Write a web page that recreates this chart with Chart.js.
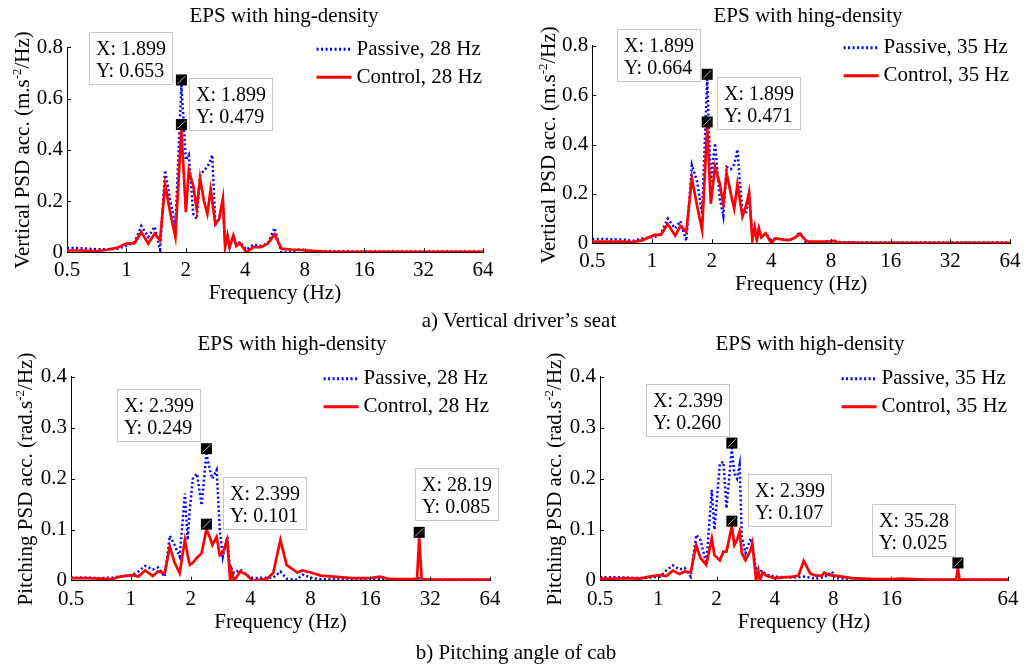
<!DOCTYPE html>
<html>
<head>
<meta charset="utf-8">
<title>PSD EPS</title>
<script src="https://cdn.jsdelivr.net/npm/chart.js@4.4.1/dist/chart.umd.min.js"></script>
<style>
  body { margin: 0; background: #fff; }
  #page { position: relative; width: 1029px; height: 666px; overflow: hidden; background: #fff;
          font-family: "Liberation Serif", serif; color: #000; }
  canvas { position: absolute; left: 0; top: 0; }
  .txt { position: absolute; white-space: nowrap; font-size: 21px; line-height: 1; transform: translate(-50%, -50%); }
  .ylab { transform: translate(-50%, -50%) rotate(-90deg); }
  sup { font-size: 13px; line-height: 0; vertical-align: 8px; }
</style>
</head>
<body>
<div id="page">
  <canvas id="c1" width="1029" height="666"></canvas>
  <canvas id="c2" width="1029" height="666"></canvas>
  <canvas id="c3" width="1029" height="666"></canvas>
  <canvas id="c4" width="1029" height="666"></canvas>

  <div class="txt" style="left:284px;top:15px">EPS with hing-density</div>
  <div class="txt" style="left:808px;top:15px">EPS with hing-density</div>
  <div class="txt" style="left:292px;top:343px">EPS with high-density</div>
  <div class="txt" style="left:810px;top:343px">EPS with high-density</div>

  <div class="txt ylab" style="left:22px;top:150px">Vertical PSD acc. (m.s<sup>-2</sup>/Hz)</div>
  <div class="txt ylab" style="left:548px;top:145px">Vertical PSD acc. (m.s<sup>-2</sup>/Hz)</div>
  <div class="txt ylab" style="left:25px;top:479px">Pitching PSD acc. (rad.s<sup>-2</sup>/Hz)</div>
  <div class="txt ylab" style="left:554px;top:479px">Pitching PSD acc. (rad.s<sup>-2</sup>/Hz)</div>

  <div class="txt" style="left:519px;top:320px">a) Vertical driver’s seat</div>
  <div class="txt" style="left:516px;top:652px">b) Pitching angle of cab</div>
</div>

<script>
// ---- data ----
const xTicks = [0.5, 1, 2, 4, 8, 16, 32, 64];
const xTicksNo32 = [0.5, 1, 2, 4, 8, 16, 64];
const yTicksSeat = [0, 0.2, 0.4, 0.6, 0.8];
const yTicksCab = [0, 0.1, 0.2, 0.3, 0.4];

// a) vertical seat, 28 Hz
const freqSeat28 = [0.5, 0.6, 0.7, 0.8, 0.9, 1.0, 1.1, 1.19, 1.29, 1.39, 1.48, 1.57, 1.67, 1.77, 1.899,
  2.0, 2.07, 2.18, 2.27, 2.36, 2.47, 2.57, 2.67, 2.72, 2.82, 2.95, 3.08, 3.16, 3.25, 3.33,
  3.48, 3.6, 3.76, 4.05, 4.4, 4.8, 5.2, 5.63, 6.1, 7.0, 7.5, 8.0, 8.5, 10, 12, 16, 24, 32, 48, 64];
const passiveSeat28 = [0.017, 0.016, 0.012, 0.012, 0.014, 0.025, 0.04, 0.103, 0.06, 0.1, 0.01, 0.32, 0.2, 0.1, 0.653,
  0.36, 0.38, 0.15, 0.13, 0.3, 0.32, 0.333, 0.36, 0.38, 0.11, 0.13, 0.2, 0.04, 0.06, 0.02,
  0.06, 0.03, 0.04, 0.01, 0.03, 0.025, 0.035, 0.095, 0.0, 0.002, 0.01, 0.01, 0.004, 0.004, 0.004, 0.003, 0.003, 0.003, 0.003, 0.003];
const controlSeat28 = [0.007, 0.007, 0.004, 0.01, 0.018, 0.034, 0.036, 0.079, 0.034, 0.073, 0.047, 0.265, 0.15, 0.06, 0.479,
  0.157, 0.32, 0.26, 0.17, 0.29, 0.2, 0.15, 0.245, 0.2, 0.11, 0.13, 0.21, 0.02, 0.066, 0.02,
  0.066, 0.025, 0.036, 0.0, 0.02, 0.02, 0.034, 0.07, 0.014, 0.01, 0.01, 0.007, 0.007, 0.003, 0.002, 0.002, 0.002, 0.002, 0.002, 0.002];
const tipsSeat28 = [[1.899, 0.653], [1.899, 0.479]];

// a) vertical seat, 35 Hz
const freqSeat35 = [0.5, 0.6, 0.72, 0.8, 0.9, 1.03, 1.11, 1.2, 1.31, 1.39, 1.49, 1.59, 1.69, 1.79, 1.899,
  1.98, 2.08, 2.2, 2.29, 2.38, 2.5, 2.6, 2.7, 2.86, 2.98, 3.09, 3.21, 3.3, 3.38, 3.46,
  3.56, 3.75, 4.0, 4.2, 4.6, 4.9, 5.2, 5.58, 6.0, 6.2, 7.3, 8.0, 8.3, 8.6, 10, 12, 16, 24, 32, 48, 64];
const passiveSeat35 = [0.018, 0.017, 0.015, 0.01, 0.02, 0.025, 0.04, 0.1, 0.06, 0.09, 0.01, 0.317, 0.25, 0.12, 0.664,
  0.25, 0.405, 0.18, 0.11, 0.31, 0.3, 0.32, 0.38, 0.12, 0.12, 0.2, 0.03, 0.065, 0.013, 0.06,
  0.025, 0.04, 0.01, 0.02, 0.015, 0.013, 0.02, 0.045, 0.0, 0.002, 0.005, 0.01, 0.013, 0.005, 0.004, 0.003, 0.003, 0.003, 0.003, 0.003, 0.003];
const controlSeat35 = [0.007, 0.007, 0.007, 0.005, 0.013, 0.034, 0.034, 0.078, 0.031, 0.07, 0.047, 0.263, 0.15, 0.054, 0.471,
  0.16, 0.31, 0.24, 0.16, 0.283, 0.2, 0.14, 0.24, 0.108, 0.15, 0.205, 0.013, 0.065, 0.013, 0.06,
  0.025, 0.04, 0.0, 0.02, 0.015, 0.013, 0.02, 0.038, 0.01, 0.007, 0.007, 0.008, 0.01, 0.004, 0.003, 0.002, 0.002, 0.002, 0.002, 0.002, 0.002];
const tipsSeat35 = [[1.899, 0.664], [1.899, 0.471]];

// b) cab pitch, 28 Hz
const freqCab28 = [0.5, 0.6, 0.7, 0.8, 0.88, 1.03, 1.09, 1.18, 1.29, 1.37, 1.48, 1.57, 1.66, 1.76, 1.87,
  1.93, 1.98, 2.05, 2.15, 2.27, 2.399, 2.5, 2.57, 2.7, 2.8, 2.9, 3.05, 3.16, 3.2, 3.3,
  3.55, 3.8, 4.1, 4.8, 5.2, 5.65, 6.07, 6.86, 7.3, 8.2, 9, 10.5, 13, 16, 17.9, 20, 26, 27.5, 28.19, 29, 32, 48, 64];
const passiveCab28 = [0.006, 0.006, 0.005, 0.006, 0.008, 0.012, 0.018, 0.029, 0.022, 0.026, 0.008, 0.088, 0.07, 0.047, 0.171,
  0.08, 0.14, 0.2, 0.21, 0.148, 0.249, 0.217, 0.2, 0.217, 0.1, 0.047, 0.086, 0.02, 0.025, 0.015,
  0.022, 0.012, 0.005, 0.006, 0.006, 0.018, 0.004, 0.002, 0.012, 0.005, 0.003, 0.003, 0.003, 0.003, 0.004, 0.003, 0.002, 0.002, 0.005, 0.002, 0.002, 0.002, 0.002];
const controlCab28 = [0.005, 0.005, 0.004, 0.003, 0.008, 0.011, 0.008, 0.02, 0.009, 0.018, 0.015, 0.067, 0.035, 0.015, 0.08,
  0.05, 0.031, 0.035, 0.045, 0.054, 0.101, 0.085, 0.07, 0.086, 0.05, 0.055, 0.08, 0.0, 0.02, 0.0,
  0.018, 0.012, 0.0, 0.003, 0.015, 0.08, 0.031, 0.016, 0.02, 0.015, 0.01, 0.008, 0.005, 0.005, 0.008, 0.003, 0.003, 0.004, 0.085, 0.003, 0.002, 0.002, 0.002];
const tipsCab28 = [[2.399, 0.249], [2.399, 0.101], [28.19, 0.085]];

// b) cab pitch, 35 Hz
const freqCab35 = [0.5, 0.6, 0.7, 0.8, 0.9, 1.02, 1.1, 1.19, 1.29, 1.37, 1.47, 1.57, 1.65, 1.77, 1.89,
  1.95, 2.08, 2.17, 2.25, 2.399, 2.47, 2.55, 2.63, 2.7, 2.82, 3.0, 3.06, 3.2, 3.28, 3.35,
  3.45, 3.6, 3.98, 4.95, 5.3, 5.64, 6.1, 6.5, 7.0, 7.2, 7.5, 7.9, 8.2, 10, 13, 16, 18, 24, 34.5, 35.28, 36, 48, 64];
const passiveCab35 = [0.007, 0.007, 0.006, 0.005, 0.006, 0.008, 0.02, 0.03, 0.022, 0.025, 0.008, 0.09, 0.08, 0.034, 0.178,
  0.1, 0.23, 0.233, 0.142, 0.26, 0.21, 0.2, 0.227, 0.086, 0.054, 0.083, 0.07, 0.02, 0.022, 0.018,
  0.02, 0.012, 0.008, 0.006, 0.007, 0.008, 0.006, 0.004, 0.006, 0.008, 0.01, 0.018, 0.005, 0.004, 0.003, 0.003, 0.003, 0.002, 0.002, 0.002, 0.002, 0.002, 0.002];
const controlCab35 = [0.004, 0.004, 0.005, 0.004, 0.008, 0.011, 0.009, 0.02, 0.013, 0.018, 0.016, 0.07, 0.045, 0.031, 0.083,
  0.05, 0.04, 0.057, 0.057, 0.107, 0.07, 0.08, 0.096, 0.054, 0.04, 0.06, 0.073, 0.0, 0.02, 0.0,
  0.016, 0.01, 0.005, 0.008, 0.01, 0.039, 0.014, 0.01, 0.01, 0.016, 0.012, 0.01, 0.01, 0.005, 0.003, 0.003, 0.004, 0.002, 0.002, 0.025, 0.002, 0.002, 0.002];
const tipsCab35 = [[2.399, 0.26], [2.399, 0.107], [35.28, 0.025]];

// ---- drawing ----
const FONT = '"Liberation Serif", serif';
const tickFont = { family: FONT, size: 21 };
Chart.defaults.font.family = FONT;

function toPoints(freq, vals) {
  return freq.map((f, i) => ({ x: f, y: vals[i] }));
}

// inward ticks, legend and data tips, MATLAB style
const extrasPlugin = {
  id: 'extras',
  afterDraw(chart, args, opts) {
    const { ctx, chartArea: a, scales: { x, y } } = chart;
    ctx.save();
    ctx.strokeStyle = '#000';
    ctx.lineWidth = 1;
    x.ticks.forEach(t => {
      const px = Math.round(x.getPixelForValue(t.value)) + 0.5;
      if (px - a.left < 2) return;
      ctx.beginPath(); ctx.moveTo(px, a.bottom); ctx.lineTo(px, a.bottom - 4); ctx.stroke();
    });
    y.ticks.forEach(t => {
      const py = Math.round(y.getPixelForValue(t.value)) + 0.5;
      if (a.bottom - py < 2) return;
      ctx.beginPath(); ctx.moveTo(a.left, py); ctx.lineTo(a.left + 4, py); ctx.stroke();
    });

    // legend
    ctx.font = '21px ' + FONT;
    ctx.textBaseline = 'middle';
    ctx.textAlign = 'left';
    const sets = chart.data.datasets;
    const textW = Math.max(...sets.map(d => ctx.measureText(d.label).width));
    const tx = a.right - textW - 1;
    sets.forEach((d, i) => {
      const ly = a.top + 2 + i * 28;
      ctx.strokeStyle = d.borderColor;
      ctx.lineWidth = 3;
      ctx.setLineDash(d.borderDash || []);
      ctx.beginPath(); ctx.moveTo(tx - 40, ly); ctx.lineTo(tx - 5, ly); ctx.stroke();
      ctx.setLineDash([]);
      ctx.fillStyle = '#000';
      ctx.fillText(d.label, tx, ly);
    });

    // data tips
    opts.tips.forEach((tip, i) => {
      const mx = x.getPixelForValue(tip[0]);
      const my = y.getPixelForValue(tip[1]) - 5;
      const bx = Math.round(mx + opts.boxOffsets[i][0]);
      const by = Math.round(my + opts.boxOffsets[i][1]);
      ctx.fillStyle = '#fff';
      ctx.fillRect(bx, by, 83, 52);
      ctx.strokeStyle = '#c8c8c8';
      ctx.lineWidth = 1;
      ctx.strokeRect(bx + 0.5, by + 0.5, 83, 52);
      ctx.fillStyle = '#000';
      ctx.font = '20px ' + FONT;
      ctx.textBaseline = 'alphabetic';
      ctx.fillText('X: ' + tip[0], bx + 7, by + 23);
      ctx.fillText('Y: ' + tip[1].toFixed(3), bx + 7, by + 45);
      ctx.fillRect(mx - 5.5, my - 5.5, 11, 11);
      ctx.strokeStyle = '#fff';
      ctx.lineWidth = 0.7;
      ctx.beginPath(); ctx.moveTo(mx - 4, my + 4); ctx.lineTo(mx + 4, my - 4); ctx.stroke();
    });
    ctx.restore();
  }
};

function makeChart(id, cfg) {
  const [L, T, R, B] = cfg.area;
  const yW = 60, xH = 54;
  return new Chart(document.getElementById(id), {
    type: 'line',
    data: {
      datasets: [
        { label: cfg.names[0], data: toPoints(cfg.freq, cfg.passive), borderColor: '#0000ff',
          borderWidth: 2.5, borderDash: [2, 2.5], pointRadius: 0, tension: 0, order: 2 },
        { label: cfg.names[1], data: toPoints(cfg.freq, cfg.control), borderColor: '#ff0000',
          borderWidth: 2.7, pointRadius: 0, tension: 0, order: 1 }
      ]
    },
    options: {
      responsive: false,
      animation: false,
      events: [],
      layout: { padding: { left: L - yW, top: T, right: 1029 - R, bottom: 666 - B - xH } },
      plugins: {
        legend: { display: false },
        tooltip: { enabled: false },
        extras: { tips: cfg.tips, boxOffsets: cfg.boxOffsets }
      },
      scales: {
        x: {
          type: 'logarithmic', min: 0.5, max: 64,
          afterBuildTicks: s => { s.ticks = cfg.xTicks.map(v => ({ value: v })); },
          afterFit: s => { s.height = xH; s.paddingLeft = 0; s.paddingRight = 0; },
          grid: { display: false, drawTicks: false },
          border: { color: '#000', width: 1 },
          ticks: { callback: v => String(v), font: tickFont, color: '#000', padding: 6, maxRotation: 0, autoSkip: false },
          title: { display: true, text: 'Frequency (Hz)', font: tickFont, color: '#000', padding: 0 }
        },
        y: {
          min: 0, max: cfg.yTicks[cfg.yTicks.length - 1],
          afterBuildTicks: s => { s.ticks = cfg.yTicks.map(v => ({ value: v })); },
          afterFit: s => { s.width = yW; s.paddingTop = 0; s.paddingBottom = 0; },
          grid: { display: false, drawTicks: false },
          border: { color: '#000', width: 1 },
          ticks: { callback: v => (v === 0 ? '0' : v.toFixed(1)), font: tickFont, color: '#000', padding: 4 }
        }
      }
    },
    plugins: [extrasPlugin]
  });
}

function drawAll() {
  makeChart('c1', {
    area: [67, 47.3, 483, 252.3], xTicks: xTicks, yTicks: yTicksSeat,
    names: ['Passive, 28 Hz', 'Control, 28 Hz'],
    freq: freqSeat28, passive: passiveSeat28, control: controlSeat28,
    tips: tipsSeat28, boxOffsets: [[-92, -48], [8, -47]]
  });
  makeChart('c2', {
    area: [592.3, 45.7, 1010, 243.3], xTicks: xTicks, yTicks: yTicksSeat,
    names: ['Passive, 35 Hz', 'Control, 35 Hz'],
    freq: freqSeat35, passive: passiveSeat35, control: controlSeat35,
    tips: tipsSeat35, boxOffsets: [[-90, -45], [10, -45]]
  });
  makeChart('c3', {
    area: [71, 376.7, 490, 580.7], xTicks: xTicks, yTicks: yTicksCab,
    names: ['Passive, 28 Hz', 'Control, 28 Hz'],
    freq: freqCab28, passive: passiveCab28, control: controlCab28,
    tips: tipsCab28, boxOffsets: [[-89, -60], [17, -47], [-4, -64]]
  });
  makeChart('c4', {
    area: [600, 376.7, 1008, 580.7], xTicks: xTicksNo32, yTicks: yTicksCab,
    names: ['Passive, 35 Hz', 'Control, 35 Hz'],
    freq: freqCab35, passive: passiveCab35, control: controlCab35,
    tips: tipsCab35, boxOffsets: [[-86, -59], [16, -47], [-86, -59]]
  });
}

document.fonts.load('21px "Liberation Serif"').then(drawAll, drawAll);
</script>
</body>
</html>
